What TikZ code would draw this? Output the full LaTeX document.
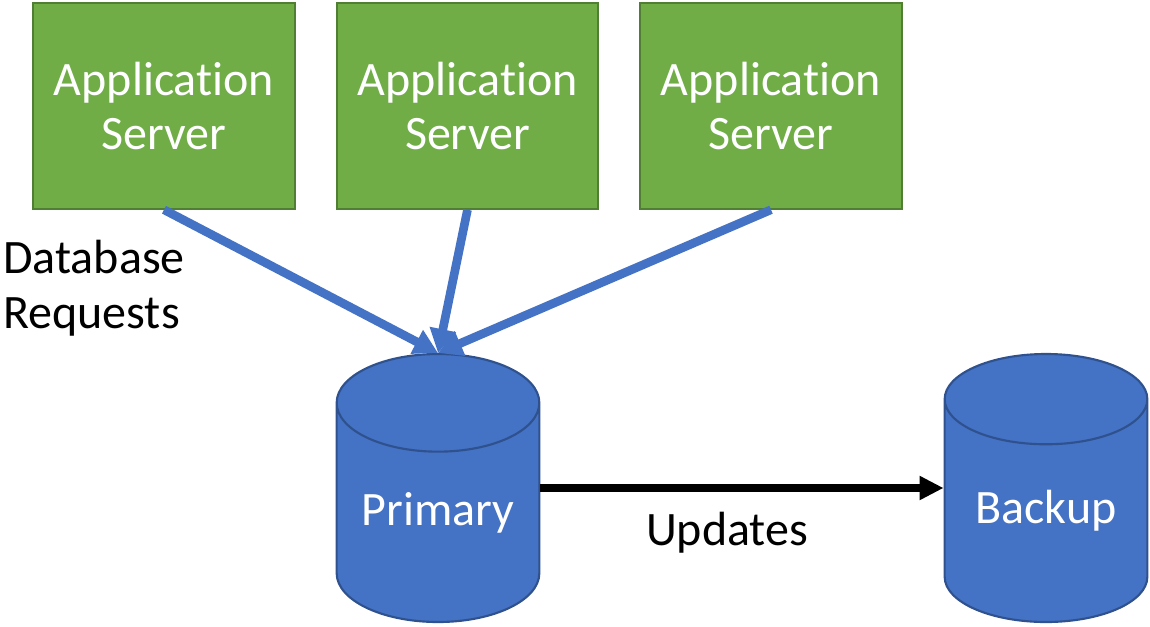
\documentclass[tikz,border=0pt]{standalone}
\usepackage{fontspec}
\setmainfont[RawFeature=-liga]{Carlito}
\usetikzlibrary{arrows.meta,shapes.geometric}
\definecolor{servergreen}{HTML}{70AD47}
\definecolor{servergreenline}{HTML}{507E32}
\definecolor{dbblue}{HTML}{4472C4}
\definecolor{dblue}{HTML}{2F528F}
\tikzset{
  server/.style={draw=servergreenline,line width=1.6pt,fill=servergreen,text=white,minimum width=196pt,minimum height=154pt,inner sep=0pt,align=center,font=\fontsize{36}{41}\selectfont},
  database/.style={shape=cylinder,shape border rotate=90,aspect=0.64,draw=dblue,line width=1.6pt,fill=dbblue,text=white,minimum width=152pt,minimum height=201pt,inner sep=0pt,anchor=shape center,font=\fontsize{36}{41}\selectfont},
  request/.style={draw=dbblue,line width=6.5pt,-{Triangle[length=18pt,width=19pt]}},
  label/.style={inner sep=0pt,align=left,font=\fontsize{36}{41}\selectfont},
}
\begin{document}
\begin{tikzpicture}[x=0.75pt,y=-0.75pt]
  \useasboundingbox (0,0) rectangle (1150,626);
  \node[server] (serverA) at (164,106) {Application\\Server};
  \node[server] (serverB) at (467.5,106) {Application\\Server};
  \node[server] (serverC) at (771,106) {Application\\Server};
  \node[database] (primary) at (438,488) {Primary};
  \node[database] (backup) at (1046,488) {Backup};
  \node[label,anchor=west] (requests) at (3,288.5) {Database\\Requests};
  \node[label] (updates) at (727,533) {Updates};
  \coordinate (target) at (primary.top);
  \draw[request] (serverA.south) -- (target);
  \draw[request] (serverB.south) -- (target);
  \draw[request] (serverC.south) -- (target);
  \draw[line width=6pt,-{Triangle[length=18pt,width=17pt]}] (primary.shape center -| primary.east) -- (backup.shape center -| backup.west);
\end{tikzpicture}
\end{document}
